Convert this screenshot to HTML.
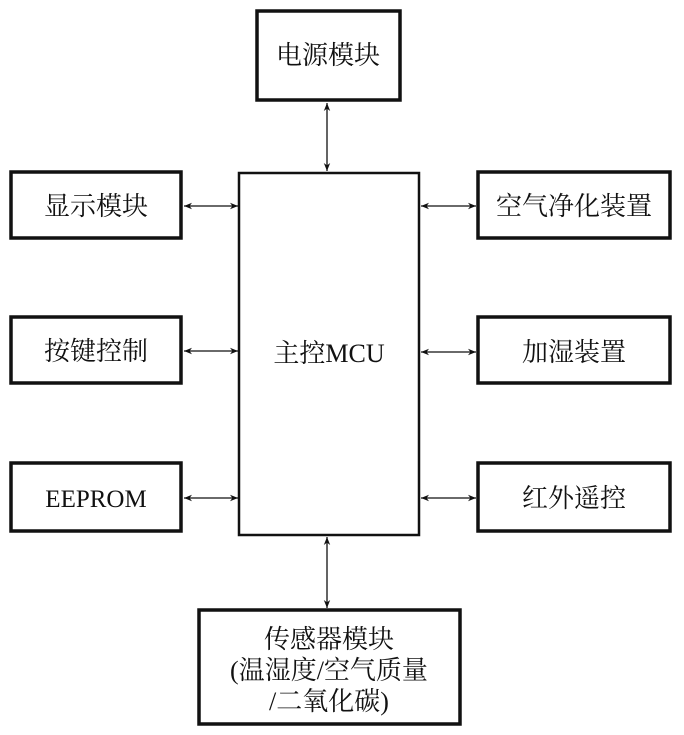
<!DOCTYPE html>
<html><head><meta charset="utf-8"><style>
html,body{margin:0;padding:0;background:#fff;}
svg{display:block;}
text{font-family:"Liberation Serif","Noto Serif CJK SC",serif;fill:#111;}
</style></head><body>
<svg width="684" height="735" viewBox="0 0 684 735" xmlns="http://www.w3.org/2000/svg">
<defs>
<marker id="a" viewBox="0 0 10 10" refX="10" refY="5" markerWidth="12" markerHeight="8" markerUnits="userSpaceOnUse" orient="auto-start-reverse">
<path d="M0,1 L10,5 L0,9 L3,5 Z" fill="#111"/></marker>
</defs>
<g fill="none" stroke="#111" stroke-width="3.5">
<rect x="257" y="11" width="143" height="89"/>
<rect x="11" y="172" width="170" height="66"/>
<rect x="11" y="317" width="170" height="66"/>
<rect x="11" y="463" width="170" height="68"/>
<rect x="478" y="172" width="192" height="66"/>
<rect x="478" y="317" width="192" height="66"/>
<rect x="478" y="463" width="192" height="68"/>
<rect x="199" y="610" width="261" height="114"/>
</g>
<rect x="239" y="173" width="180" height="362" fill="none" stroke="#111" stroke-width="2.5"/>
<g stroke="#111" stroke-width="1.3" marker-start="url(#a)" marker-end="url(#a)">
<line x1="327" y1="103" x2="327" y2="171"/>
<line x1="327" y1="537" x2="327" y2="608"/>
<line x1="184" y1="206" x2="238" y2="206"/>
<line x1="184" y1="351" x2="238" y2="351"/>
<line x1="184" y1="498" x2="238" y2="498"/>
<line x1="421" y1="206" x2="476" y2="206"/>
<line x1="421" y1="352" x2="476" y2="352"/>
<line x1="421" y1="498" x2="476" y2="498"/>
</g>
<g font-size="26" text-anchor="middle">
<text x="328" y="64">电源模块</text>
<text x="96" y="215">显示模块</text>
<text x="96" y="360">按键控制</text>
<text x="96" y="507" font-size="25">EEPROM</text>
<text x="574" y="215">空气净化装置</text>
<text x="574" y="361">加湿装置</text>
<text x="574" y="507">红外遥控</text>
<text x="329" y="362">主控MCU</text>
<text x="329" y="648">传感器模块</text>
<text x="329" y="679">(温湿度/空气质量</text>
<text x="329" y="710">/二氧化碳)</text>
</g>
</svg>
</body></html>
